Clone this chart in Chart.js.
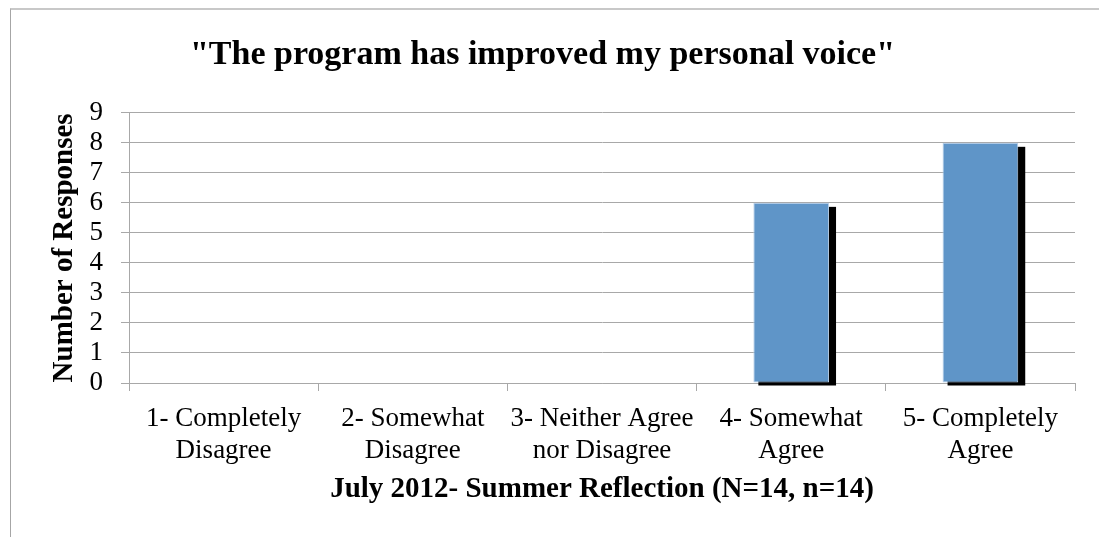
<!DOCTYPE html>
<html>
<head>
<meta charset="utf-8">
<script src="https://cdn.jsdelivr.net/npm/chart.js@4"></script>
<style>
    html, body { margin: 0; padding: 0; background: #fff; }
    #wrap { position: relative; width: 1099px; height: 537px; overflow: hidden; }
    #frame { position: absolute; left: 10px; top: 8px; width: 1100px; height: 540px;
             border-top: 2px solid #c8c8c8; border-left: 1px solid #a6a6a6; }
    #chart { position: absolute; left: 0; top: 0; }
</style>
</head>
<body>
<div id="wrap">
    <div id="frame"></div>
    <canvas id="chart" width="1099" height="537"></canvas>
</div>
<script>
// chart data
const categories = [
    ['1- Completely', 'Disagree'],
    ['2- Somewhat', 'Disagree'],
    ['3- Neither Agree', 'nor Disagree'],
    ['4- Somewhat', 'Agree'],
    ['5- Completely', 'Agree']
];
const responses = [0, 0, 0, 6, 8];
const yTicks = [0, 1, 2, 3, 4, 5, 6, 7, 8, 9];

const chartTitle = '"The program has improved my personal voice"';
const xTitle = 'July 2012- Summer Reflection (N=14, n=14)';
const yTitle = 'Number of Responses';

const SERIF = '"Liberation Serif", "DejaVu Serif", serif';

// black drop shadow behind each bar, placed from the bar elements
const barShadow = {
    id: 'barShadow',
    beforeDatasetDraw(chart, args) {
        const ctx = chart.ctx;
        ctx.save();
        ctx.fillStyle = '#000';
        args.meta.data.forEach(bar => {
            const { x, y, base, width } = bar.getProps(['x', 'y', 'base', 'width'], true);
            if (Math.abs(base - y) < 1) return;
            ctx.fillRect(x - width / 2 + 5, y + 4, width + 2, base - y - 1);
        });
        ctx.restore();
    }
};

Chart.defaults.color = '#000';
Chart.defaults.font.family = SERIF;

new Chart(document.getElementById('chart').getContext('2d'), {
    type: 'bar',
    data: {
        labels: categories,
        datasets: [{
            data: responses,
            backgroundColor: '#5f95c8',
            borderColor: '#b8d0ea',
            borderWidth: 1,
            borderSkipped: false,
            barPercentage: 0.4,
            categoryPercentage: 1.0,
            clip: false
        }]
    },
    options: {
        responsive: false,
        animation: false,
        layout: { padding: { left: 10, top: 8, right: 24, bottom: 0 } },
        plugins: {
            legend: { display: false },
            tooltip: { enabled: false },
            title: {
                display: true,
                text: chartTitle,
                font: { family: SERIF, size: 34, weight: 'bold' },
                padding: { top: 27, bottom: 37 }
            }
        },
        scales: {
            x: {
                grid: { drawOnChartArea: false, drawTicks: true, tickLength: 8, color: '#a8a8a8' },
                border: { color: '#a8a8a8' },
                ticks: {
                    font: { size: 27, lineHeight: 1.185 },
                    padding: 12,
                    maxRotation: 0,
                    autoSkip: false
                },
                title: {
                    display: true,
                    text: xTitle,
                    font: { size: 29, weight: 'bold' },
                    padding: { top: 4, bottom: 30 }
                },
                afterFit: s => { s.height = 154; }
            },
            y: {
                min: 0,
                max: 9,
                afterBuildTicks: s => { s.ticks = yTicks.map(v => ({ value: v })); },
                grid: { color: '#a8a8a8', tickLength: 8 },
                border: { color: '#a8a8a8' },
                ticks: {
                    font: { size: 27 },
                    padding: 18,
                    autoSkip: false
                },
                title: {
                    display: true,
                    text: yTitle,
                    font: { size: 29, weight: 'bold' },
                    padding: { top: 37, bottom: 0 }
                },
                afterFit: s => { s.width = 119; }
            }
        }
    },
    plugins: [barShadow]
});
</script>
</body>
</html>
